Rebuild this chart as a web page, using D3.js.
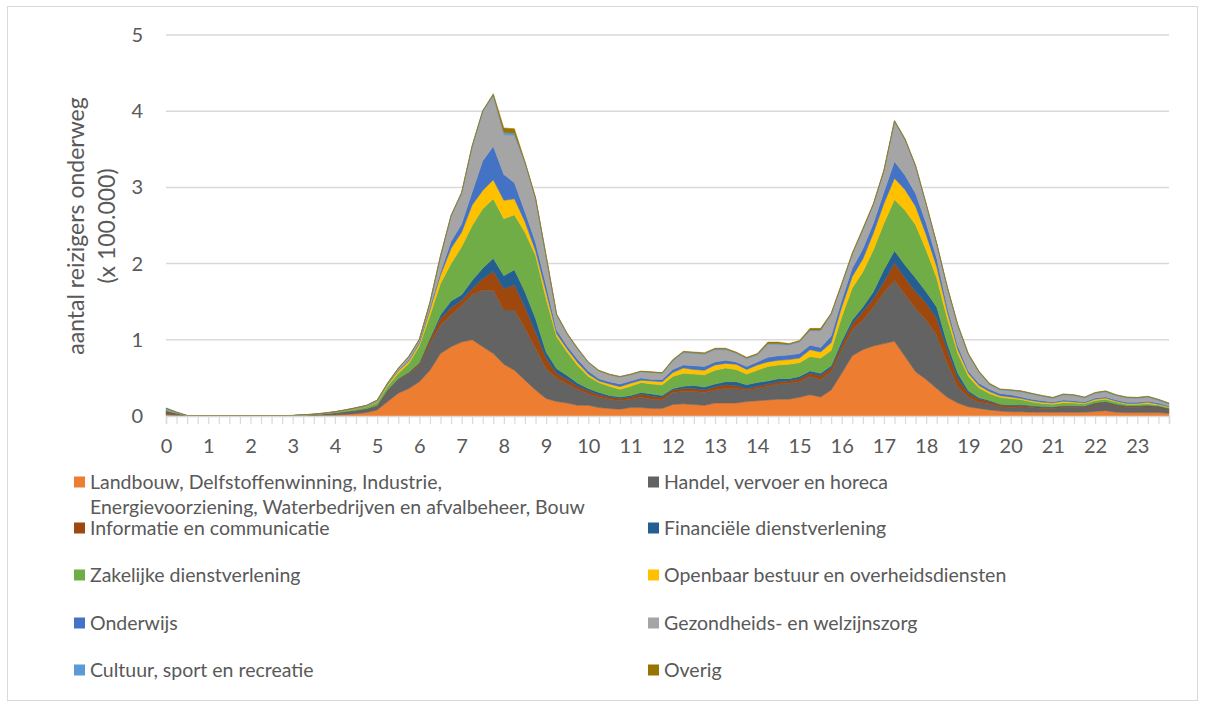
<!DOCTYPE html>
<html><head><meta charset="utf-8">
<script src="https://cdn.jsdelivr.net/npm/d3@7"></script>
<style>
html,body{margin:0;padding:0;background:#fff;}
svg{display:block;font-family:Lato,"Open Sans",sans-serif;}
</style></head>
<body><svg id="c" width="1205" height="704"></svg>
<script>
const categories = [
"0:00","0:15","0:30","0:45","1:00","1:15","1:30","1:45","2:00","2:15","2:30","2:45",
"3:00","3:15","3:30","3:45","4:00","4:15","4:30","4:45","5:00","5:15","5:30","5:45",
"6:00","6:15","6:30","6:45","7:00","7:15","7:30","7:45","8:00","8:15","8:30","8:45",
"9:00","9:15","9:30","9:45","10:00","10:15","10:30","10:45","11:00","11:15","11:30","11:45",
"12:00","12:15","12:30","12:45","13:00","13:15","13:30","13:45","14:00","14:15","14:30","14:45",
"15:00","15:15","15:30","15:45","16:00","16:15","16:30","16:45","17:00","17:15","17:30","17:45",
"18:00","18:15","18:30","18:45","19:00","19:15","19:30","19:45","20:00","20:15","20:30","20:45",
"21:00","21:15","21:30","21:45","22:00","22:15","22:30","22:45","23:00","23:15","23:30","23:45"];

const hourLabels = ["0","1","2","3","4","5","6","7","8","9","10","11","12","13","14","15","16","17","18","19","20","21","22","23"];
const yTicks = [0,1,2,3,4,5];

const seriesNames = [
"Landbouw, Delfstoffenwinning, Industrie, Energievoorziening, Waterbedrijven en afvalbeheer, Bouw",
"Handel, vervoer en horeca",
"Informatie en communicatie",
"Financiële dienstverlening",
"Zakelijke dienstverlening",
"Openbaar bestuur en overheidsdiensten",
"Onderwijs",
"Gezondheids- en welzijnszorg",
"Cultuur, sport en recreatie",
"Overig"];

const landbouw = [
.02,.01,.001,.001,.001,.001,.001,.001, .001,.001,.001,.001,.002,.003,.005,.008,
.012,.02,.03,.045,.08,.19,.30,.36, .45,.60,.82,.91,.97,1.0,.91,.82,
.68,.60,.47,.34,.23,.19,.17,.14, .14,.11,.10,.09,.11,.11,.10,.10,
.15,.16,.15,.14,.17,.17,.17,.19, .20,.21,.22,.22,.245,.28,.25,.34,
.56,.79,.87,.92,.95,.98,.78,.58, .48,.36,.245,.17,.12,.10,.08,.065,
.055,.055,.05,.05,.048,.05,.05,.05, .06,.07,.05,.045,.045,.045,.045,.035];
const handel = [
.035,.018,.002,.002,.002,.002,.002,.002, .002,.002,.002,.002,.003,.006,.01,.015,
.022,.03,.035,.04,.045,.14,.17,.19, .22,.35,.37,.42,.48,.59,.74,.83,
.71,.79,.68,.55,.39,.31,.25,.21, .15,.135,.12,.11,.11,.135,.12,.11,
.16,.16,.17,.17,.17,.19,.19,.15, .16,.18,.20,.21,.205,.24,.23,.24,
.31,.34,.39,.51,.67,.80,.81,.83, .78,.70,.445,.21,.13,.08,.08,.055,
.06,.065,.06,.05,.052,.06,.06,.06, .09,.10,.08,.065,.065,.075,.065,.045];
const informatie = [
.005,.002,0,0,0,0,0,0, 0,0,0,0,0,.001,.001,.002,
.002,.003,.004,.005,.007,.008,.01,.015, .02,.05,.09,.09,.07,.08,.15,.25,
.28,.33,.28,.21,.14,.06,.06,.04, .04,.035,.03,.03,.03,.045,.04,.035,
.03,.04,.04,.03,.045,.05,.04,.02, .03,.03,.03,.03,.04,.04,.05,.05,
.06,.08,.11,.11,.14,.23,.22,.22, .22,.22,.18,.11,.05,.04,.03,.025,
.02,.02,.015,.015,.01,.015,.015,.01, .015,.01,.015,.015,.015,.01,.01,.01];
const financieel = [
.005,.002,0,0,0,0,0,0, 0,0,0,0,0,.001,.001,.002,
.002,.003,.004,.005,.006,.007,.01,.01, .01,.02,.05,.09,.07,.11,.14,.17,
.17,.20,.20,.18,.08,.06,.05,.04, .03,.03,.02,.02,.02,.02,.03,.025,
.02,.03,.04,.04,.035,.04,.05,.05, .05,.04,.04,.03,.03,.03,.03,.03,
.05,.05,.06,.09,.16,.16,.17,.18, .15,.15,.08,.07,.03,.02,.015,.01,
.01,.01,.01,.01,.01,.01,.01,.01, .01,.01,.01,.01,.01,.01,.01,.01];
const zakelijk = [
.015,.008,.001,.001,.001,.001,.001,.001, .001,.001,.001,.001,.001,.002,.003,.005,
.008,.012,.018,.025,.04,.05,.07,.115, .22,.30,.41,.49,.63,.72,.78,.78,
.75,.72,.78,.83,.70,.42,.31,.23, .16,.13,.12,.10,.12,.13,.13,.14,
.16,.17,.15,.16,.18,.18,.16,.14, .16,.19,.18,.19,.18,.19,.20,.20,
.32,.42,.46,.55,.61,.67,.72,.70, .55,.38,.33,.26,.19,.13,.09,.09,
.085,.065,.05,.04,.035,.04,.035,.03, .03,.03,.03,.02,.02,.02,.015,.01];
const openbaar = [
.003,.001,0,0,0,0,0,0, 0,0,0,0,0,.001,.001,.002,
.003,.004,.005,.007,.01,.02,.03,.03, .03,.07,.11,.20,.19,.27,.24,.25,
.24,.21,.14,.06,.09,.04,.04,.04, .03,.02,.03,.035,.04,.03,.04,.04,
.05,.07,.06,.06,.07,.06,.07,.06, .07,.06,.06,.06,.06,.09,.08,.10,
.13,.15,.17,.22,.26,.28,.27,.24, .20,.15,.09,.05,.04,.03,.025,.02,
.02,.015,.015,.015,.015,.02,.015,.01, .015,.015,.01,.01,.01,.02,.01,.01];
const onderwijs = [
.002,.001,0,0,0,0,0,0, 0,0,0,0,0,0,.001,.001,
.002,.002,.003,.003,.004,.005,.01,.015, .02,.03,.04,.09,.11,.17,.39,.44,
.34,.21,.13,.11,.09,.05,.04,.04, .04,.03,.03,.035,.03,.03,.02,.03,
.04,.04,.05,.05,.04,.04,.03,.04, .04,.06,.06,.06,.06,.06,.06,.09,
.09,.11,.13,.13,.15,.22,.19,.17, .15,.11,.06,.05,.03,.03,.03,.03,
.03,.02,.02,.02,.015,.015,.015,.015, .015,.015,.015,.015,.015,.015,.015,.01];
const gezondheid = [
.008,.004,.001,.001,.001,.001,.001,.001, .001,.001,.001,.001,.001,.001,.002,.003,
.004,.005,.007,.008,.012,.01,.02,.04, .03,.06,.20,.33,.40,.59,.64,.66,
.52,.62,.64,.57,.37,.19,.15,.13, .11,.10,.09,.09,.08,.08,.09,.08,
.11,.16,.16,.16,.16,.14,.11,.10, .09,.17,.15,.13,.15,.19,.22,.28,
.20,.18,.25,.24,.27,.52,.46,.35, .24,.18,.25,.26,.21,.14,.06,.045,
.05,.065,.065,.055,.045,.065,.065,.05, .06,.065,.055,.055,.05,.05,.035,.025];
const cultuur = [
.01,.005,.001,0,0,0,0,0, 0,0,0,0,0,0,0,.001,
.001,.001,.002,.002,.003,.003,.005,.005, .005,.01,.01,.01,.01,.015,.015,.015,
.03,.03,.01,.01,.01,.01,.01,.01, .005,.005,.005,.005,.005,.005,.005,.005,
.01,.01,.01,.01,.01,.01,.01,.01, .01,.01,.01,.01,.01,.01,.01,.01,
.01,.01,.01,.01,.01,.01,.01,.01, .01,.01,.01,.01,.01,.01,.01,.01,
.01,.01,.01,.01,.01,.01,.01,.01, .01,.01,.01,.01,.01,.01,.01,.01];
const overig = [
.002,.001,.001,.001,.001,.001,.001,.001, .001,.001,.001,.001,.001,.001,.001,.001,
.002,.002,.002,.002,.003,.003,.005,.005, .005,.005,.005,.005,.005,.005,.005,.015,
.06,.06,.01,.01,.01,.01,.005,.01, .005,.005,.005,.005,.005,.005,.005,.005,
.01,.01,.01,.01,.01,.01,.01,.01, .01,.02,.02,.01,.01,.02,.02,.01,
.01,.01,.01,.01,.01,.01,.01,.01, .01,.01,.01,.01,.01,.01,.01,.005,
.005,.005,.005,.005,.005,.005,.005,.005, .005,.005,.005,.005,.005,.005,.005,.005];

const seriesValues = [landbouw, handel, informatie, financieel, zakelijk, openbaar, onderwijs, gezondheid, cultuur, overig];
const colors = ["#ED7D31","#636363","#9E480E","#255E91","#70AD47","#FFC000","#4472C4","#A5A5A5","#5B9BD5","#997300"];

const keys = seriesNames;
const rows = categories.map((c, i) => {
  const r = {cat: c};
  keys.forEach((k, j) => r[k] = seriesValues[j][i]);
  return r;
});

const svg = d3.select("#c");
const L = 166, R = 1169, T = 35, B = 416;

svg.append("rect").attr("x", 7.5).attr("y", 6.5).attr("width", 1190).attr("height", 694)
  .attr("fill", "#fff").attr("stroke", "#d9d9d9").attr("stroke-width", 1);

const x = d3.scalePoint().domain(categories).range([L, R]).padding(0);
const y = d3.scaleLinear().domain([0, 5]).range([B, T]);

// gridlines
svg.append("g").selectAll("line").data(yTicks.filter(v => v > 0)).join("line")
  .attr("x1", L).attr("x2", R).attr("y1", d => y(d)).attr("y2", d => y(d))
  .attr("stroke", "#d9d9d9").attr("stroke-width", 1.5);

const stack = d3.stack().keys(keys);
const layers = stack(rows);
const area = d3.area()
  .x(d => x(d.data.cat))
  .y0(d => y(d[0]))
  .y1(d => y(d[1]));

svg.append("g").selectAll("path").data(layers).join("path")
  .attr("d", area)
  .attr("fill", (d, i) => colors[i])
  .attr("stroke", (d, i) => colors[i])
  .attr("stroke-width", 0.5);

// x axis
const xAxis = d3.axisBottom(x)
  .tickValues(categories)
  .tickSize(8)
  .tickPadding(15)
  .tickFormat((d, i) => (i % 4 === 0 ? hourLabels[i / 4] : ""));
const gx = svg.append("g").attr("transform", `translate(0,${B})`).call(xAxis);
gx.select(".domain").attr("stroke", "#d9d9d9").attr("stroke-width", 1.5);
gx.selectAll(".tick line").attr("stroke", "#d9d9d9").attr("stroke-width", 1.2);
gx.selectAll(".tick text").attr("fill", "#595959").attr("font-size", "20px")
  .attr("font-family", "Lato, 'Open Sans', sans-serif");

// y axis
const yAxis = d3.axisLeft(y).tickValues(yTicks).tickSize(0).tickPadding(23).tickFormat(d3.format("d"));
const gy = svg.append("g").attr("transform", `translate(${L},0)`).call(yAxis);
gy.select(".domain").remove();
gy.selectAll(".tick text").attr("fill", "#595959").attr("font-size", "20px")
  .attr("font-family", "Lato, 'Open Sans', sans-serif");

// y title
const yt = svg.append("text").attr("transform", "translate(84,226) rotate(-90)")
  .attr("text-anchor", "middle").attr("fill", "#595959").attr("font-size", "23px");
yt.append("tspan").attr("x", 0).attr("y", 0).text("aantal reizigers onderweg");
yt.append("tspan").attr("x", 0).attr("y", 31).text("(x 100.000)");

// legend
const legendPos = [
  {x: 74, y: 482}, {x: 648, y: 482},
  {x: 74, y: 528}, {x: 648, y: 528},
  {x: 74, y: 575}, {x: 648, y: 575},
  {x: 74, y: 623}, {x: 648, y: 623},
  {x: 74, y: 670}, {x: 648, y: 670}];
const legendLines = [
  ["Landbouw, Delfstoffenwinning, Industrie,", "Energievoorziening, Waterbedrijven en afvalbeheer, Bouw"],
  ["Handel, vervoer en horeca"],
  ["Informatie en communicatie"],
  ["Financiële dienstverlening"],
  ["Zakelijke dienstverlening"],
  ["Openbaar bestuur en overheidsdiensten"],
  ["Onderwijs"],
  ["Gezondheids- en welzijnszorg"],
  ["Cultuur, sport en recreatie"],
  ["Overig"]];
const lg = svg.append("g").selectAll("g").data(keys).join("g")
  .attr("transform", (d, i) => `translate(${legendPos[i].x},${legendPos[i].y})`);
lg.append("rect").attr("x", 0).attr("y", -5.5).attr("width", 11).attr("height", 11)
  .attr("fill", (d, i) => colors[i]);
lg.each(function(d, i) {
  const t = d3.select(this).append("text").attr("fill", "#595959").attr("font-size", "19.5px");
  legendLines[i].forEach((ln, j) => {
    t.append("tspan").attr("x", 16).attr("y", j * 25).attr("dy", "0.35em").text(ln);
  });
});
</script></body></html>
